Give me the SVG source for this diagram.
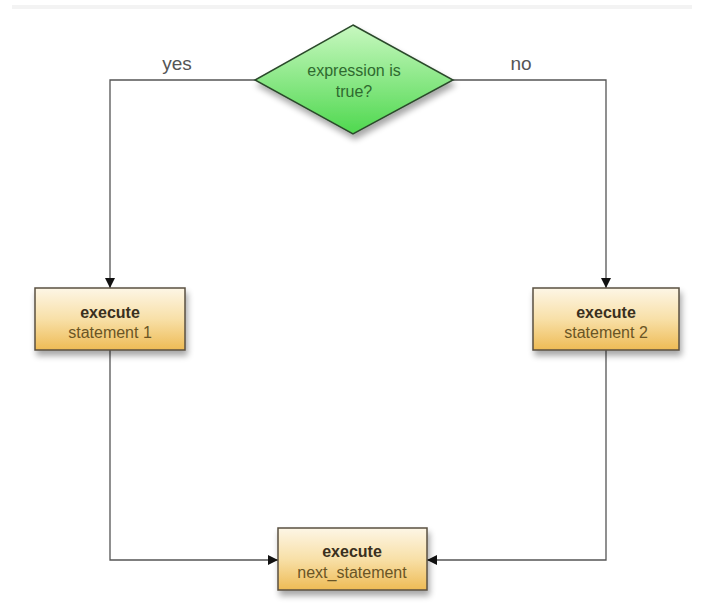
<svg xmlns="http://www.w3.org/2000/svg" width="704" height="611" viewBox="0 0 704 611">
<defs>
<linearGradient id="gBox" x1="0" y1="0" x2="0" y2="1">
<stop offset="0" stop-color="#fdf6e6"/>
<stop offset="0.5" stop-color="#f8e0a8"/>
<stop offset="1" stop-color="#eebb55"/>
</linearGradient>
<linearGradient id="gDia" x1="0" y1="0" x2="0" y2="1">
<stop offset="0" stop-color="#c8f8c0"/>
<stop offset="1" stop-color="#4fd84f"/>
</linearGradient>
<filter id="sh" x="-20%" y="-20%" width="150%" height="160%">
<feGaussianBlur in="SourceAlpha" stdDeviation="3"/>
<feOffset dx="2" dy="5"/>
<feComponentTransfer><feFuncA type="linear" slope="0.35"/></feComponentTransfer>
<feMerge><feMergeNode/><feMergeNode in="SourceGraphic"/></feMerge>
</filter>
<marker id="arr" viewBox="0 0 10 10" refX="10" refY="5" markerWidth="10" markerHeight="10" markerUnits="userSpaceOnUse" orient="auto">
<path d="M0,0 L10,5 L0,10 z" fill="#111"/>
</marker>
</defs>
<style>
.box{fill:url(#gBox);stroke:#5a5040;stroke-width:1.5;filter:url(#sh)}
.dia{fill:url(#gDia);stroke:#2c4a2c;stroke-width:1.5;filter:url(#sh)}
.line{fill:none;stroke:#555;stroke-width:1.3;marker-end:url(#arr)}
.t1{font-family:"Liberation Sans",Arial,sans-serif;font-size:16px;font-weight:bold;fill:#3a3020;text-anchor:middle}
.t2{font-family:"Liberation Sans",Arial,sans-serif;font-size:16px;fill:#6a5525;text-anchor:middle}
.td{font-family:"Liberation Sans",Arial,sans-serif;font-size:16px;fill:#2f6a2f;text-anchor:middle}
.lb{font-family:"Liberation Sans",Arial,sans-serif;font-size:19px;fill:#555;text-anchor:middle}
</style>
<rect x="0" y="0" width="704" height="611" fill="#fff"/>
<rect x="12" y="5" width="680" height="4" fill="#f3f3f3"/>
<g id="connectors">
<path class="line" d="M255,80 L110,80 L110,288"/>
<path class="line" d="M453,80 L606,80 L606,288"/>
<path class="line" d="M110,350 L110,560 L278,560"/>
<path class="line" d="M606,350 L606,560 L427,560"/>
<text class="lb" x="177" y="70">yes</text>
<text class="lb" x="521" y="70">no</text>
</g>
<g id="decision">
<polygon class="dia" points="353,25 453,80 353,134 255,80"/>
<text class="td" x="354" y="76">expression is</text>
<text class="td" x="354" y="97">true?</text>
</g>
<g id="stmt1">
<rect class="box" x="35" y="288" width="150" height="62"/>
<text class="t1" x="110" y="318">execute</text>
<text class="t2" x="110" y="338">statement 1</text>
</g>
<g id="stmt2">
<rect class="box" x="533" y="288" width="146" height="62"/>
<text class="t1" x="606" y="318">execute</text>
<text class="t2" x="606" y="338">statement 2</text>
</g>
<g id="next">
<rect class="box" x="278" y="528" width="149" height="62"/>
<text class="t1" x="352" y="557">execute</text>
<text class="t2" x="352" y="578">next_statement</text>
</g>
</svg>
